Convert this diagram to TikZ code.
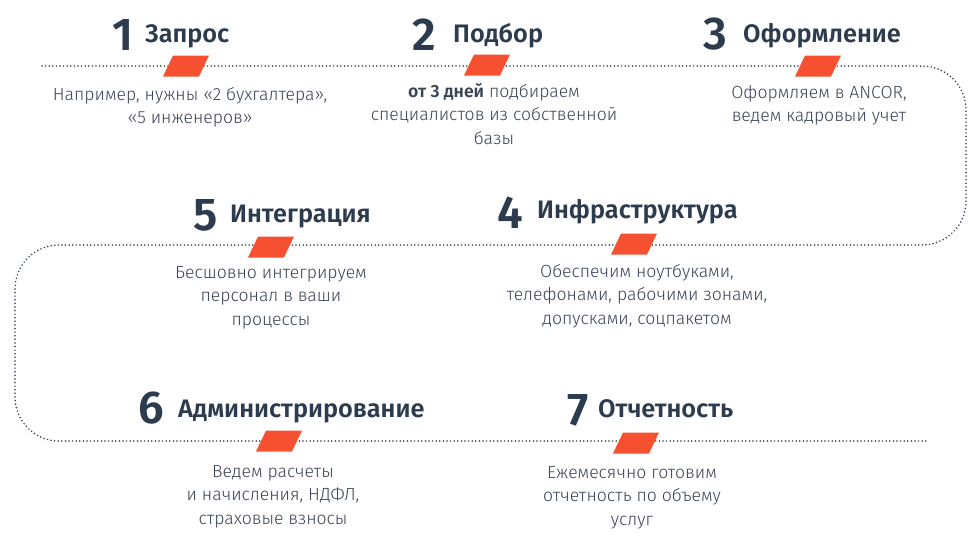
\documentclass[tikz,border=0pt]{standalone}
\usepackage{fontspec}
\setmainfont{Fira Sans}[UprightFont=* Light, BoldFont=* SemiBold]
\usetikzlibrary{positioning}
\definecolor{ink}{HTML}{2C3B4E}
\definecolor{txt}{HTML}{3A4455}
\definecolor{accent}{HTML}{F5502F}
\tikzset{
  num/.style={font=\fontsize{46}{46}\selectfont\bfseries, text=ink, inner sep=0pt, anchor=base west},
  ttl/.style={font=\fontsize{25.3}{25}\selectfont\bfseries, text=ink, inner sep=0pt, anchor=base west},
  desc/.style={font=\fontsize{17.6}{23.5}\selectfont, text=txt, align=center, inner sep=0pt, anchor=base},
  track/.style={ink, line width=1.7pt, line cap=round, dash pattern=on 0pt off 3.6pt, rounded corners=44pt}
}
\begin{document}
\begin{tikzpicture}[x=1pt,y=-1pt]
\useasboundingbox (0,0) rectangle (976,536);
\draw[track] (42,66) -| (966,245) -| (15,441) -- (928,441);

\coordinate (f1) at (186,66);
\node[num] (n1) at (112,50) {1};
\node[ttl] (t1) at (145,42) {Запрос};
\node[desc] (d1) at (190,123.5) {Например, нужны «2 бухгалтера»,\\«5 инженеров»};

\coordinate (f2) at (487,65);
\node[num] (n2) at (412,50) {2};
\node[ttl] (t2) at (453,42) {Подбор};
\node[desc] (d2) at (494,144) {\textbf{от 3 дней} подбираем\\специалистов из собственной\\базы};

\coordinate (f3) at (818,66);
\node[num] (n3) at (703,49) {3};
\node[ttl] (t3) at (743,42) {Оформление};
\node[desc] (d3) at (819,121.5) {Оформляем в ANCOR,\\ведем кадровый учет};

\coordinate (f4) at (634,244);
\node[num] (n4) at (497,228) {4};
\node[ttl] (t4) at (537,218) {Инфраструктура};
\node[desc] (d4) at (637,324) {Обеспечим ноутбуками,\\телефонами, рабочими зонами,\\допусками, соцпакетом};

\coordinate (f5) at (271,247);
\node[num] (n5) at (193,230) {5};
\node[ttl] (t5) at (230,222) {Интеграция};
\node[desc] (d5) at (271,325) {Бесшовно интегрируем\\персонал в ваши\\процессы};

\coordinate (f6) at (279,441);
\node[num] (n6) at (138,423) {6};
\node[ttl] (t6) at (178,417) {Администрирование};
\node[desc] (d6) at (273,524) {Ведем расчеты\\и начисления, НДФЛ,\\страховые взносы};

\coordinate (f7) at (636,443);
\node[num] (n7) at (567,425) {7};
\node[ttl] (t7) at (598,417) {Отчетность};
\node[desc] (d7) at (632,525) {Ежемесячно готовим\\отчетность по объему\\услуг};

\foreach \f in {f1,f2,f3,f4,f5,f6,f7}
  \fill[accent] (\f) ++(-23,10.5) -- ++(36,0) -- ++(10,-21) -- ++(-36,0) -- cycle;
\end{tikzpicture}
\end{document}
